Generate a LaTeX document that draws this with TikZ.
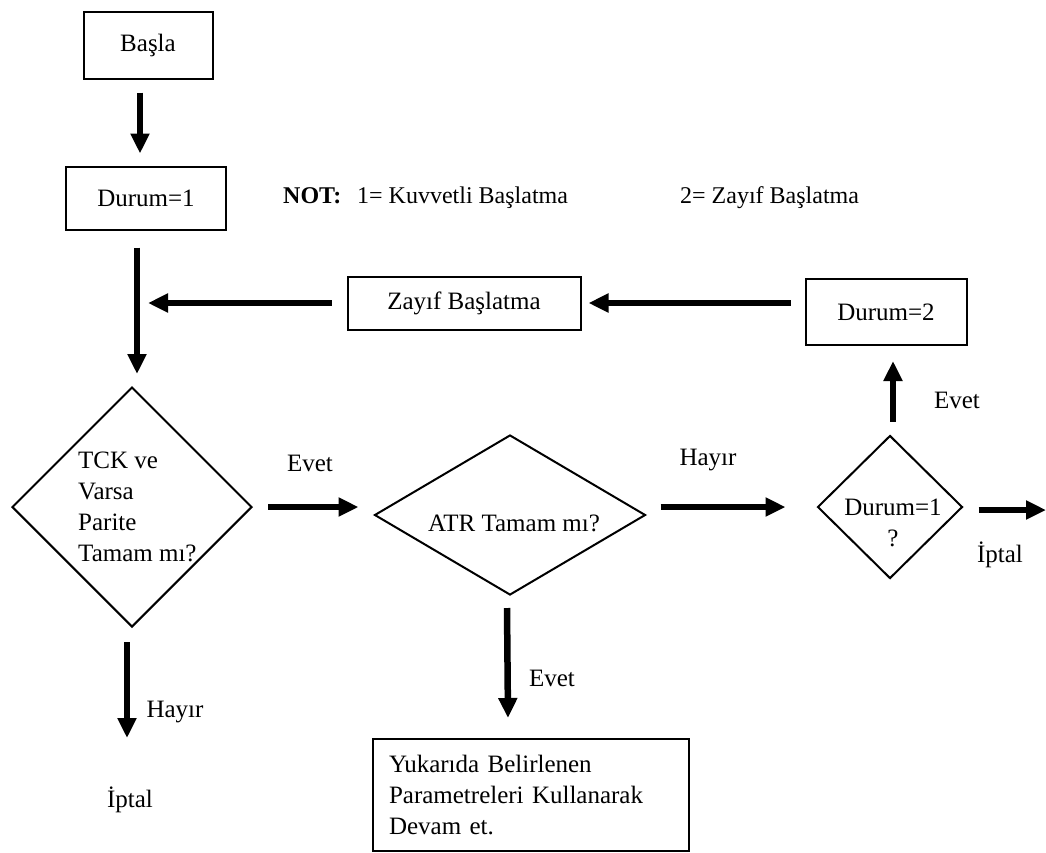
\documentclass[tikz,border=0pt]{standalone}
\usepackage{fontspec}
\setmainfont{Liberation Serif}
\usetikzlibrary{arrows.meta,shapes.geometric}
\begin{document}
\begin{tikzpicture}[x=1pt,y=-1pt,
  box/.style={draw, line width=2pt, rectangle, inner sep=0pt, font=\fontsize{25}{31}\selectfont},
  dia/.style={draw, line width=2pt, diamond, inner sep=0pt},
  txt/.style={font=\fontsize{25}{31}\selectfont, inner sep=0pt},
  arr/.style={line width=6.5pt, -{Triangle[length=20pt,width=18pt]}},
]
\useasboundingbox (0,0) rectangle (1046,852);

% process boxes
\node[box, minimum width=129pt, minimum height=67pt] (basla) at (148,45) {Başla};
\node[box, minimum width=160pt, minimum height=63pt] (d1) at (146,198) {Durum=1};
\node[box, minimum width=233pt, minimum height=53pt] (zb) at (464,303) {Zayıf Başlatma};
\node[box, minimum width=161pt, minimum height=66pt] (d2) at (886,312) {Durum=2};
\node[box, minimum width=316pt, minimum height=112pt, text width=284pt, align=left, anchor=north west] (cont) at (372,738)
  {Yukarıda Belirlenen\\Parametreleri Kullanarak\\Devam et.};

% decisions
\node[dia, minimum width=240pt, minimum height=240pt] (tck) at (132,507) {};
\node[txt, align=left, anchor=west] (tcktxt) at (78,507) {TCK ve\\Varsa\\Parite\\Tamam mı?};
\node[dia, minimum width=271pt, minimum height=160pt] (atr) at (510,515) {};
\node[txt] (atrtxt) at (514,523) {ATR Tamam mı?};
\node[dia, minimum width=145pt, minimum height=143pt] (dd) at (890,507) {};
\node[txt, align=center] (ddtxt) at (893,523) {Durum=1\\?};

% note
\node[txt, anchor=base west, font=\bfseries\fontsize{24}{28}\selectfont] (nt) at (283,203) {NOT:};
\node[txt, anchor=base west, font=\fontsize{24}{28}\selectfont] (n1) at (357,203) {1= Kuvvetli Başlatma};
\node[txt, anchor=base west, font=\fontsize{24}{28}\selectfont] (n2) at (680,203) {2= Zayıf Başlatma};

% branch labels
\node[txt] (l1) at (310,463) {Evet};
\node[txt] (l2) at (708,460) {Hayır};
\node[txt] (l3) at (957,400) {Evet};
\node[txt] (ip2) at (1000,555) {İptal};
\node[txt] (l5) at (175,712) {Hayır};
\node[txt] (l6) at (552,678) {Evet};
\node[txt] (ip1) at (130,800) {İptal};

% helper points
\coordinate (mg) at (148,303);
\coordinate (a5) at (atr.west |- tck.east);
\coordinate (a6) at (atr.east |- dd.west);
\coordinate (ex) at (1046,510);

% connectors
\draw[arr] ([shift={(-8,13)}]basla.south) -- ([shift={(-6,-12)}]d1.north);
\draw[arr] ([shift={(-9,17)}]d1.south) -- ([shift={(5,-12)}]tck.north);
\draw[arr] ([xshift=-15pt]zb.west) -- (mg);
\draw[arr] ([shift={(-14,-9)}]d2.west) -- ([xshift=7pt]zb.east);
\draw[arr] ([xshift=15pt]tck.east) -- ([xshift=-15pt]a5);
\draw[arr] ([xshift=14pt]a6) -- ([xshift=-31pt]dd.west);
\draw[arr] ([shift={(3,-13)}]dd.north) -- ([shift={(7,15)}]d2.south);
\draw[arr] ([shift={(15,3)}]dd.east) -- (ex);
\draw[arr] ([shift={(-5,14)}]tck.south) -- ([shift={(-3,-62)}]ip1.center);
\draw[arr] ([shift={(-3,12)}]atr.south) -- ([shift={(-23,-20)}]cont.north);
\end{tikzpicture}
\end{document}
